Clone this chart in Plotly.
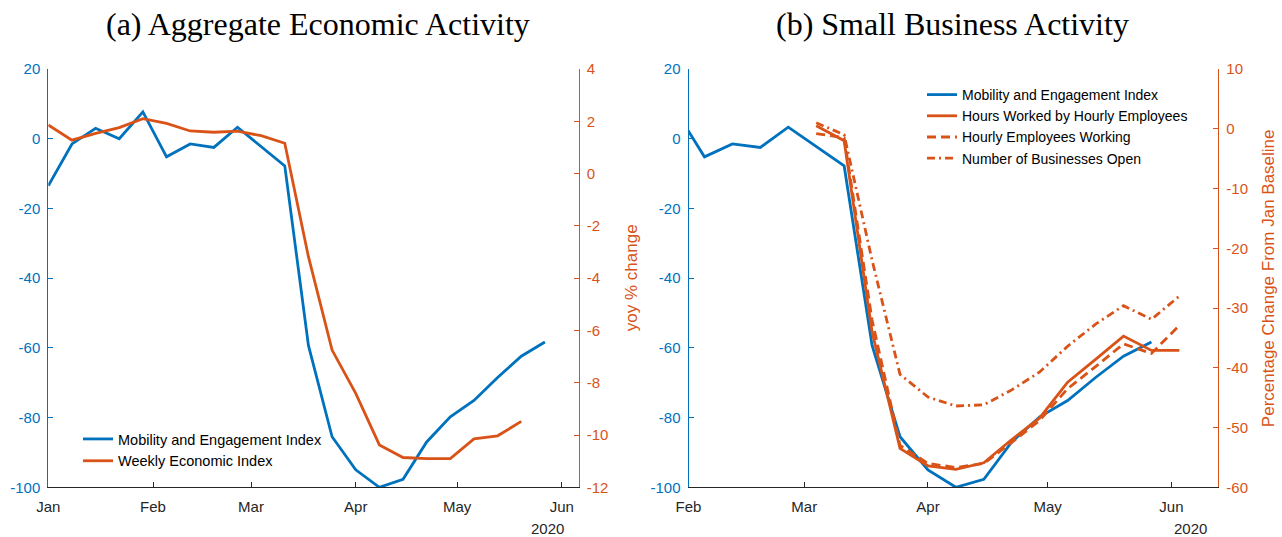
import plotly.graph_objects as go

BLUE = "#0072BD"
ORANGE = "#D95319"
AXIS_GRAY = "#262626"
TICK_FONT = "Liberation Sans, Arial, sans-serif"
TITLE_FONT = "Liberation Serif, Times New Roman, serif"

# ---------------- data ----------------
mobility_dates = [
    "2020-01-01", "2020-01-08", "2020-01-15", "2020-01-22", "2020-01-29",
    "2020-02-05", "2020-02-12", "2020-02-19", "2020-02-26", "2020-03-04",
    "2020-03-11", "2020-03-18", "2020-03-25", "2020-04-01", "2020-04-08",
    "2020-04-15", "2020-04-22", "2020-04-29", "2020-05-06", "2020-05-13",
    "2020-05-20", "2020-05-27",
]
mobility_index = [
    -13.5, -1.5, 3.0, 0.0, 7.7,
    -5.2, -1.5, -2.5, 3.3, -2.3,
    -7.8, -59.3, -85.5, -95.0, -100.0,
    -97.7, -87.0, -79.8, -75.1, -68.5,
    -62.4, -58.3,
]

wei_dates = [
    "2020-01-01", "2020-01-08", "2020-01-15", "2020-01-22", "2020-01-29",
    "2020-02-05", "2020-02-12", "2020-02-19", "2020-02-26", "2020-03-04",
    "2020-03-11", "2020-03-18", "2020-03-25", "2020-04-01", "2020-04-08",
    "2020-04-15", "2020-04-22", "2020-04-29", "2020-05-06", "2020-05-13",
    "2020-05-20",
]
wei_values = [
    1.86, 1.28, 1.54, 1.76, 2.10,
    1.92, 1.63, 1.58, 1.62, 1.45,
    1.16, -3.18, -6.75, -8.41, -10.38,
    -10.86, -10.90, -10.90, -10.15, -10.03,
    -9.48,
]

homebase_dates = [
    "2020-03-04", "2020-03-11", "2020-03-18", "2020-03-25", "2020-04-01",
    "2020-04-08", "2020-04-15", "2020-04-22", "2020-04-29", "2020-05-06",
    "2020-05-13", "2020-05-20", "2020-05-27", "2020-06-03",
]
hours_worked = [
    0.5, -2.0, -34.0, -53.5, -56.4,
    -57.0, -55.9, -52.0, -48.4, -42.4,
    -38.6, -34.7, -37.1, -37.1,
]
employees_working = [
    -0.8, -1.5, -32.0, -53.0, -56.0,
    -56.7, -56.0, -52.5, -48.8, -43.5,
    -39.8, -36.0, -37.6, -32.9,
]
businesses_open = [
    1.0, -1.0, -22.0, -41.1, -44.9,
    -46.4, -46.2, -43.7, -40.7, -36.4,
    -32.7, -29.6, -31.9, -28.0,
]

# ---------------- ticks ----------------
panel_a_month_ticks = ["2020-01-01", "2020-02-01", "2020-03-01", "2020-04-01", "2020-05-01", "2020-06-01"]
panel_a_month_labels = ["Jan", "Feb", "Mar", "Apr", "May", "Jun"]
panel_b_month_ticks = ["2020-02-01", "2020-03-01", "2020-04-01", "2020-05-01", "2020-06-01"]
panel_b_month_labels = ["Feb", "Mar", "Apr", "May", "Jun"]
mobility_ticks = [-100, -80, -60, -40, -20, 0, 20]
mobility_tick_labels = ["-100", "-80", "-60", "-40", "-20", "0", "20"]
wei_ticks = [-12, -10, -8, -6, -4, -2, 0, 2, 4]
wei_tick_labels = ["-12", "-10", "-8", "-6", "-4", "-2", "0", "2", "4"]
baseline_ticks = [-60, -50, -40, -30, -20, -10, 0, 10]
baseline_tick_labels = ["-60", "-50", "-40", "-30", "-20", "-10", "0", "10"]

W, H = 1282, 537
LINE_W = 2.8

fig = go.Figure()

# panel (a)
fig.add_trace(go.Scatter(x=mobility_dates, y=mobility_index, mode="lines",
                         name="Mobility and Engagement Index",
                         line=dict(color=BLUE, width=LINE_W),
                         xaxis="x", yaxis="y", legend="legend"))
fig.add_trace(go.Scatter(x=wei_dates, y=wei_values, mode="lines",
                         name="Weekly Economic Index",
                         line=dict(color=ORANGE, width=LINE_W),
                         xaxis="x", yaxis="y2", legend="legend"))

# panel (b)
fig.add_trace(go.Scatter(x=mobility_dates, y=mobility_index, mode="lines",
                         name="Mobility and Engagement Index",
                         line=dict(color=BLUE, width=LINE_W),
                         xaxis="x2", yaxis="y3", legend="legend2"))
fig.add_trace(go.Scatter(x=homebase_dates, y=hours_worked, mode="lines",
                         name="Hours Worked by Hourly Employees",
                         line=dict(color=ORANGE, width=LINE_W),
                         xaxis="x2", yaxis="y4", legend="legend2"))
fig.add_trace(go.Scatter(x=homebase_dates, y=employees_working, mode="lines",
                         name="Hourly Employees Working",
                         line=dict(color=ORANGE, width=LINE_W, dash="9px,5px"),
                         xaxis="x2", yaxis="y4", legend="legend2"))
fig.add_trace(go.Scatter(x=homebase_dates, y=businesses_open, mode="lines",
                         name="Number of Businesses Open",
                         line=dict(color=ORANGE, width=LINE_W, dash="8px,4px,2px,4px"),
                         xaxis="x2", yaxis="y4", legend="legend2"))

y_dom = [(H - 487.3) / H, (H - 69.0) / H]
xa_dom = [48.3 / W, 578.7 / W]
xb_dom = [688.5 / W, 1218.3 / W]


def xaxis_style(domain, anchor, rng, tv, tt):
    return dict(domain=domain, anchor=anchor, type="date", range=rng,
                tickmode="array", tickvals=tv, ticktext=tt,
                ticks="inside", ticklen=5, tickwidth=1, tickcolor=AXIS_GRAY,
                showline=True, linecolor=AXIS_GRAY, linewidth=1,
                showgrid=False, zeroline=False, automargin=False,
                ticklabelstandoff=6,
                tickfont=dict(family=TICK_FONT, size=15, color=AXIS_GRAY))


def yaxis_style(color, rng, tv, tt, anchor, side="left", overlaying=None, domain=None):
    d = dict(anchor=anchor, side=side, range=rng,
             tickmode="array", tickvals=tv, ticktext=tt,
             ticks="inside", ticklen=5, tickwidth=1, tickcolor=color,
             showline=True, linecolor=color, linewidth=1,
             showgrid=False, zeroline=False, automargin=False,
             ticklabelstandoff=4,
             tickfont=dict(family=TICK_FONT, size=15, color=color))
    if overlaying:
        d["overlaying"] = overlaying
    if domain:
        d["domain"] = domain
    return d


fig.update_layout(
    width=W, height=H,
    margin=dict(l=0, r=0, t=0, b=0),
    paper_bgcolor="white", plot_bgcolor="white",
    xaxis=xaxis_style(xa_dom, "y", ["2020-01-01", "2020-06-06"], panel_a_month_ticks, panel_a_month_labels),
    xaxis2=xaxis_style(xb_dom, "y3", ["2020-02-01", "2020-06-12 18:00"], panel_b_month_ticks, panel_b_month_labels),
    yaxis=yaxis_style(BLUE, [-100, 20], mobility_ticks, mobility_tick_labels, "x", domain=y_dom),
    yaxis2=yaxis_style(ORANGE, [-12, 4], wei_ticks, wei_tick_labels, "x", side="right", overlaying="y"),
    yaxis3=yaxis_style(BLUE, [-100, 20], mobility_ticks, mobility_tick_labels, "x2", domain=y_dom),
    yaxis4=yaxis_style(ORANGE, [-60, 10], baseline_ticks, baseline_tick_labels, "x2", side="right", overlaying="y3"),
    legend=dict(x=78 / W, y=(H - 423) / H, xanchor="left", yanchor="top",
                bgcolor="rgba(0,0,0,0)", borderwidth=0,
                font=dict(family=TICK_FONT, size=14.5, color="#000000")),
    legend2=dict(x=922 / W, y=(H - 79) / H, xanchor="left", yanchor="top",
                 bgcolor="rgba(0,0,0,0)", borderwidth=0,
                 font=dict(family=TICK_FONT, size=14, color="#000000")),
    showlegend=True,
)

annotations = [
    dict(text="(a) Aggregate Economic Activity", x=318 / W, y=(H - 24) / H,
         xref="paper", yref="paper", xanchor="center", yanchor="middle", showarrow=False,
         font=dict(family=TITLE_FONT, size=32, color="#000000")),
    dict(text="(b) Small Business Activity", x=952 / W, y=(H - 24) / H,
         xref="paper", yref="paper", xanchor="center", yanchor="middle", showarrow=False,
         font=dict(family=TITLE_FONT, size=32, color="#000000")),
    dict(text="yoy % change", x=631 / W, y=(y_dom[0] + y_dom[1]) / 2,
         xref="paper", yref="paper", xanchor="center", yanchor="middle", showarrow=False,
         textangle=-90, font=dict(family=TICK_FONT, size=17, color=ORANGE)),
    dict(text="Percentage Change From Jan Baseline", x=1268 / W, y=(y_dom[0] + y_dom[1]) / 2,
         xref="paper", yref="paper", xanchor="center", yanchor="middle", showarrow=False,
         textangle=-90, font=dict(family=TICK_FONT, size=17, color=ORANGE)),
    dict(text="2020", x=547 / W, y=(H - 528) / H,
         xref="paper", yref="paper", xanchor="center", yanchor="middle", showarrow=False,
         font=dict(family=TICK_FONT, size=15, color=AXIS_GRAY)),
    dict(text="2020", x=1190 / W, y=(H - 528) / H,
         xref="paper", yref="paper", xanchor="center", yanchor="middle", showarrow=False,
         font=dict(family=TICK_FONT, size=15, color=AXIS_GRAY)),
]
fig.update_layout(annotations=annotations)

fig.write_html("out.html", config={"displayModeBar": False},
               post_script="document.body.style.margin='0';document.body.style.overflow='hidden';")
